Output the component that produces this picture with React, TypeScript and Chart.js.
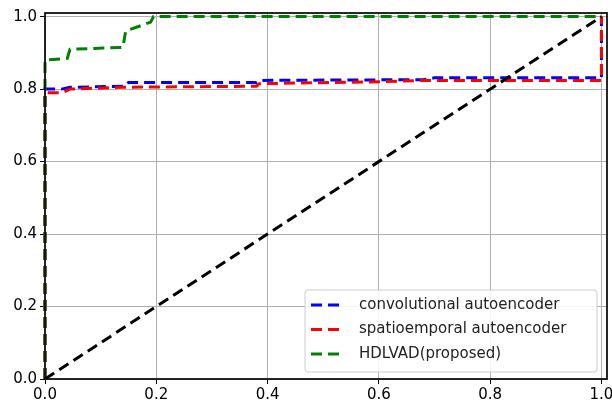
import React, { useEffect, useRef } from "react";
import { Chart, registerables } from "chart.js";

Chart.register(...registerables);

const convX = [0, 0, 0.03, 0.045, 0.145, 0.15, 0.38, 0.385, 0.68, 0.7, 0.995, 1.0, 1.0];
const convY = [0, 0.80, 0.80, 0.805, 0.808, 0.818, 0.818, 0.824, 0.826, 0.831, 0.831, 0.831, 1.0];

const spatX = [0, 0, 0.03, 0.045, 0.14, 0.38, 0.385, 0.6, 0.68, 0.995, 1.0, 1.0];
const spatY = [0, 0.79, 0.79, 0.80, 0.805, 0.808, 0.815, 0.82, 0.824, 0.824, 0.824, 1.0];

const hdlX = [0, 0, 0.04, 0.045, 0.14, 0.145, 0.19, 0.195, 1.0];
const hdlY = [0, 0.88, 0.885, 0.91, 0.915, 0.96, 0.985, 1.0, 1.0];

const diagX = [0, 1];
const diagY = [0, 1];

const seriesNames = ["convolutional autoencoder", "spatioemporal autoencoder", "HDLVAD(proposed)"];
const seriesColors = ["#0000ff", "#ff0000", "#008000"];
const tickValues = [0, 0.2, 0.4, 0.6, 0.8, 1.0];
const axisMax = 1.01;

const toPts = (xs: number[], ys: number[]) => xs.map((x, i) => ({ x, y: ys[i] }));

const FONT = '"DejaVu Sans", sans-serif';
const DASH = [11, 6];

export default function App() {
  const ref = useRef<HTMLCanvasElement>(null);
  useEffect(() => {
    document.body.style.margin = "0";
    const canvas = ref.current!;
    const framePlugin = {
      id: "frame",
      afterDatasetsDraw(chart: any) {
        const { ctx, chartArea: a } = chart;
        ctx.save();
        ctx.strokeStyle = "#111";
        ctx.lineWidth = 1.8;
        ctx.strokeRect(a.left, a.top, a.right - a.left, a.bottom - a.top);
        ctx.restore();
      },
      afterDraw(chart: any) {
        const { ctx, chartArea: a } = chart;
        ctx.save();
        const bx = a.right - 302;
        const by = a.bottom - 89;
        const bw = 292;
        const bh = 82;
        ctx.fillStyle = "rgba(255,255,255,0.85)";
        ctx.strokeStyle = "#cccccc";
        ctx.lineWidth = 1;
        ctx.beginPath();
        (ctx as any).roundRect(bx, by, bw, bh, 3);
        ctx.fill();
        ctx.stroke();
        ctx.font = `15px ${FONT}`;
        ctx.textBaseline = "middle";
        seriesNames.forEach((name, i) => {
          const y = by + 15 + i * 24.5;
          ctx.strokeStyle = seriesColors[i];
          ctx.lineWidth = 3;
          ctx.setLineDash(DASH);
          ctx.beginPath();
          ctx.moveTo(bx + 6, y);
          ctx.lineTo(bx + 39, y);
          ctx.stroke();
          ctx.setLineDash([]);
          ctx.fillStyle = "#222";
          ctx.fillText(name, bx + 54, y);
        });
        ctx.restore();
      },
    };

    const mk = (xs: number[], ys: number[], color: string, order: number) => ({
      data: toPts(xs, ys),
      borderColor: color,
      backgroundColor: color,
      borderWidth: 3,
      borderDash: DASH,
      pointRadius: 0,
      showLine: true,
      fill: false,
      tension: 0,
      clip: false as any,
      order,
    });

    const axisCommon = {
      type: "linear" as const,
      min: 0,
      max: axisMax,
      grid: {
        color: "#b0b0b0",
        lineWidth: 1,
        tickColor: "#000",
        tickLength: 5,
        drawOnChartArea: true,
      },
      border: { display: false },
      ticks: {
        stepSize: 0.2,
        color: "#000",
        font: { family: FONT, size: 15 },
        callback: (v: any) => Number(v).toFixed(1),
        autoSkip: false,
        maxRotation: 0,
      },
      afterBuildTicks: (scale: any) => {
        scale.ticks = tickValues.map((v) => ({ value: v }));
      },
    };

    const chart = new Chart(canvas, {
      type: "scatter",
      data: {
        datasets: [
          mk(convX, convY, seriesColors[0], 3),
          mk(spatX, spatY, seriesColors[1], 2),
          mk(hdlX, hdlY, seriesColors[2], 1),
          mk(diagX, diagY, "#000000", 0),
        ],
      },
      options: {
        responsive: false,
        animation: false,
        layout: { padding: { top: 13, right: 5, left: 0, bottom: 0 } },
        plugins: { legend: { display: false }, tooltip: { enabled: false } },
        scales: {
          x: {
            ...axisCommon,
            ticks: { ...axisCommon.ticks, padding: 2 },
            afterFit: (s: any) => {
              s.height = 27;
              s.paddingLeft = 0;
              s.paddingRight = 0;
            },
          },
          y: {
            ...axisCommon,
            ticks: { ...axisCommon.ticks, padding: 3 },
            afterFit: (s: any) => {
              s.width = 45;
              s.paddingTop = 0;
              s.paddingBottom = 0;
            },
          },
        },
      },
      plugins: [framePlugin],
    } as any);
    return () => chart.destroy();
  }, []);
  return <canvas ref={ref} width={612} height={406} style={{ display: "block" }} />;
}
